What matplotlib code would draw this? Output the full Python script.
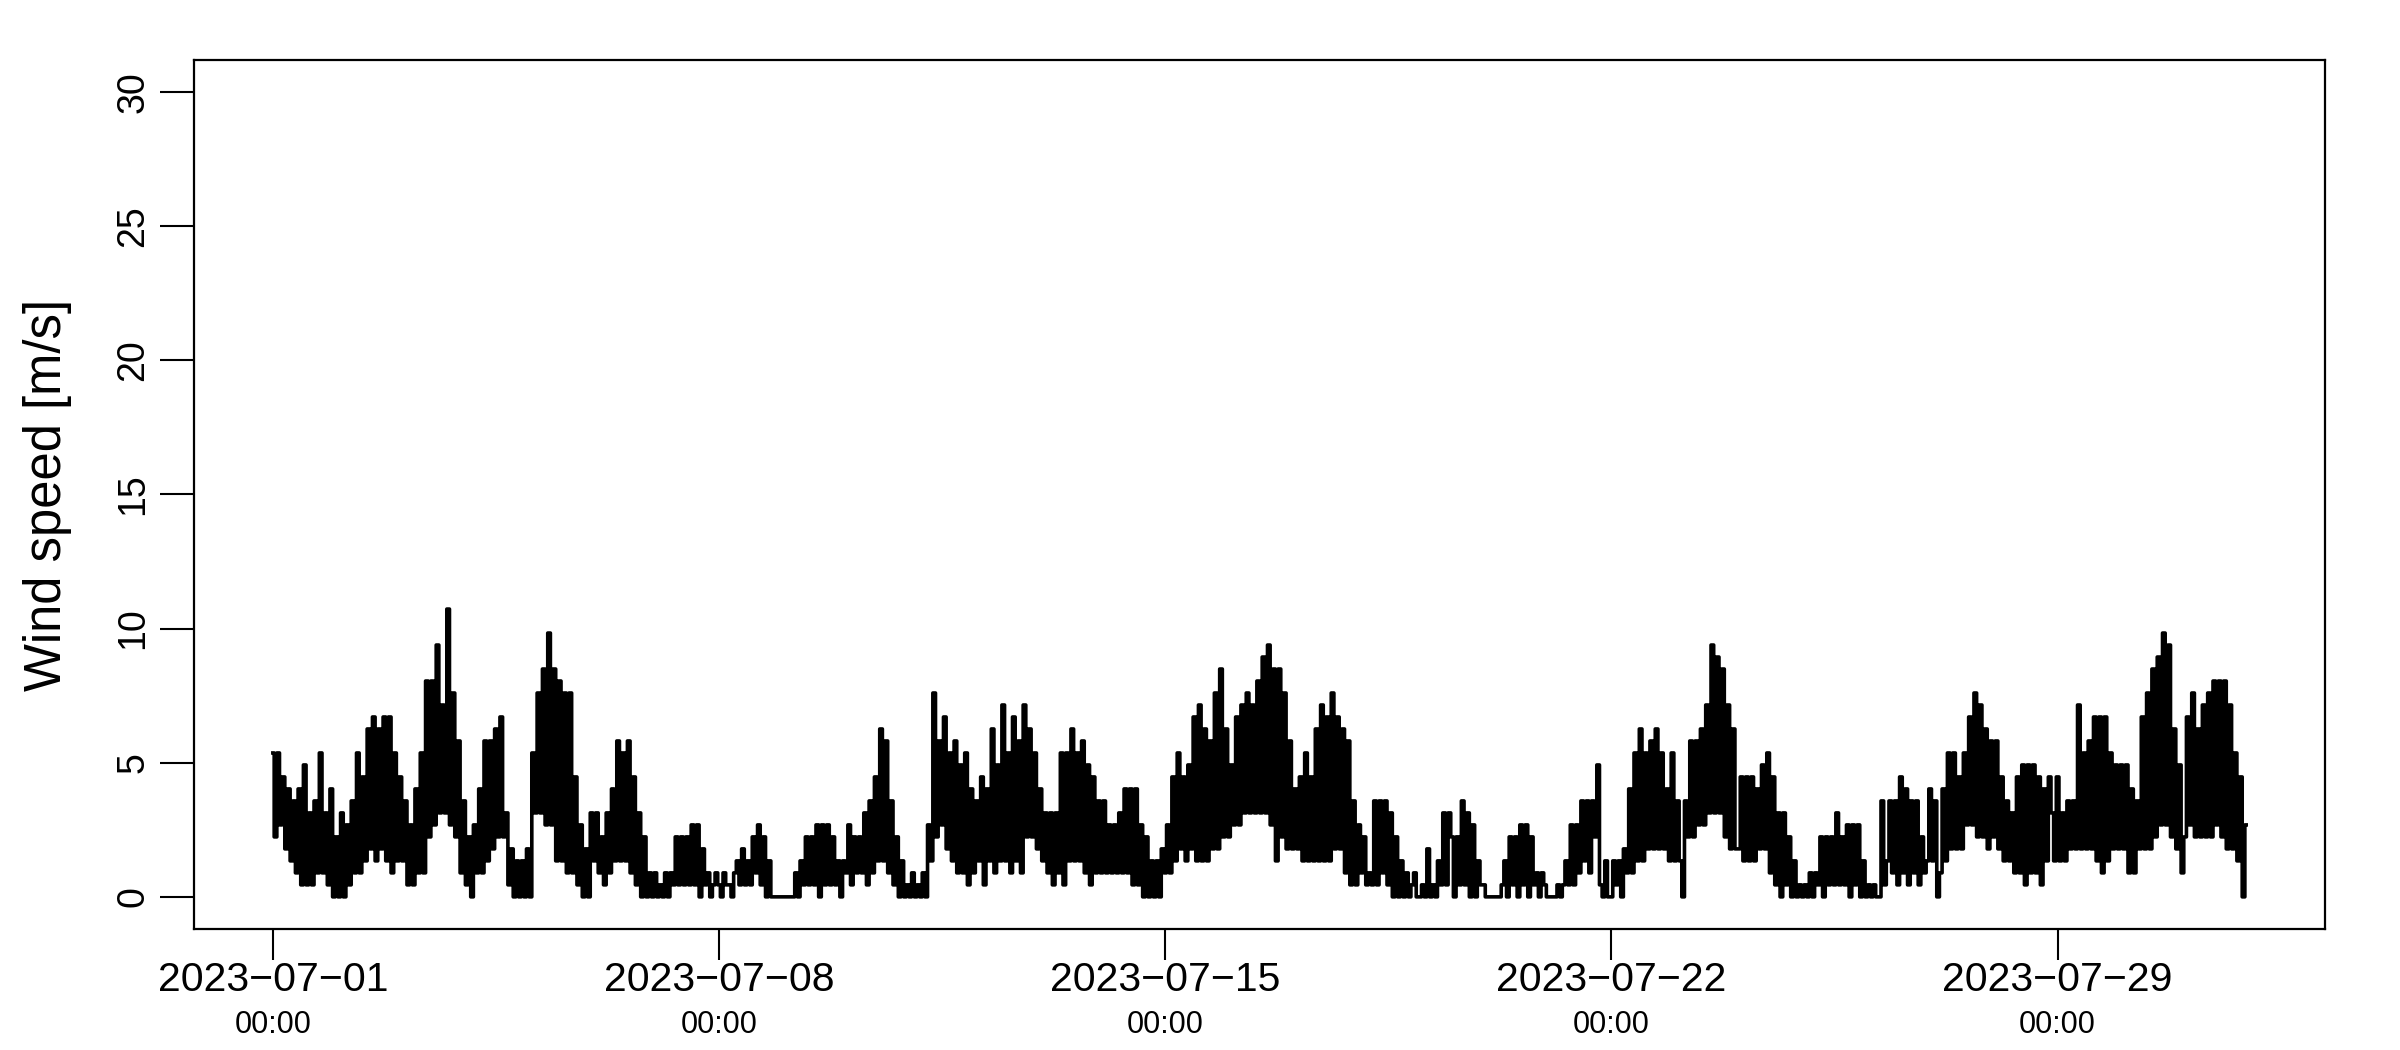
from datetime import datetime, timedelta
import numpy as np
import matplotlib
matplotlib.use("Agg")
import matplotlib.pyplot as plt
import matplotlib.dates as mdates
import matplotlib.transforms as mtransforms

plt.rcParams["font.family"] = ["Liberation Sans", "DejaVu Sans"]

MPH_TO_MS = 0.44704  # the sensor reports whole mph

# hourly wind speed in mph, one row per day (Jul 1 .. Jul 31)
week1 = [
    12, 5, 12, 6, 10, 4, 9, 3, 8, 2, 9, 1, 11, 1, 7, 1, 8, 2, 12, 2, 7, 1, 9, 0,
    5, 0, 7, 0, 6, 1, 8, 2, 12, 2, 10, 3, 14, 4, 15, 3, 14, 4, 15, 3, 15, 2, 12, 3,
    10, 3, 8, 1, 6, 1, 9, 2, 12, 2, 18, 5, 18, 6, 21, 7, 16, 7, 24, 6, 17, 5, 13, 2,
    8, 1, 5, 0, 6, 2, 9, 2, 13, 3, 13, 4, 14, 5, 15, 5, 7, 1, 4, 0, 3, 0, 3, 0,
    4, 0, 12, 7, 17, 7, 19, 6, 22, 6, 19, 3, 18, 3, 17, 2, 17, 2, 10, 1, 6, 0, 4, 0,
    7, 3, 7, 2, 5, 1, 7, 2, 9, 3, 13, 3, 12, 3, 13, 2, 10, 1, 7, 0, 5, 0, 2, 0,
    2, 0, 1, 0, 2, 0, 2, 1, 5, 1, 5, 1, 5, 1, 6, 1, 6, 0, 4, 1, 2, 0, 1, 2,
]
week2 = [
    1, 0, 2, 1, 1, 0, 2, 3, 1, 4, 1, 3, 1, 5, 2, 6, 1, 5, 0, 3, 0, 0, 0, 0,
    0, 0, 0, 0, 0, 2, 0, 3, 1, 5, 1, 5, 1, 6, 0, 6, 1, 6, 1, 5, 1, 3, 0, 3,
    2, 6, 1, 5, 2, 5, 2, 7, 1, 8, 2, 10, 3, 14, 3, 13, 2, 8, 1, 5, 0, 3, 0, 1,
    0, 2, 0, 1, 0, 2, 0, 6, 3, 17, 5, 13, 6, 15, 4, 12, 3, 13, 2, 11, 2, 12, 1, 9,
    2, 8, 3, 10, 1, 9, 3, 14, 2, 11, 3, 16, 3, 12, 2, 15, 3, 13, 2, 16, 5, 14, 5, 12,
    4, 9, 3, 7, 2, 7, 1, 7, 2, 12, 1, 12, 3, 14, 3, 12, 3, 13, 2, 11, 1, 10, 2, 8,
    2, 8, 2, 6, 2, 6, 2, 7, 2, 9, 2, 9, 1, 9, 1, 6, 0, 5, 0, 3, 0, 3, 0, 4,
]
week3 = [
    2, 6, 2, 10, 3, 12, 4, 10, 3, 11, 4, 15, 3, 16, 3, 14, 3, 13, 4, 17, 4, 19, 5, 14,
    5, 11, 6, 15, 6, 16, 7, 17, 7, 16, 7, 18, 7, 20, 7, 21, 6, 19, 3, 19, 5, 17, 4, 13,
    4, 9, 4, 10, 3, 12, 3, 10, 3, 14, 3, 16, 3, 15, 3, 17, 4, 15, 4, 14, 2, 13, 1, 8,
    1, 6, 2, 5, 1, 2, 1, 8, 1, 8, 2, 8, 1, 7, 0, 5, 0, 3, 0, 2, 0, 1, 2, 0,
    0, 1, 0, 4, 0, 1, 0, 3, 1, 7, 1, 7, 5, 0, 5, 1, 8, 1, 7, 0, 6, 0, 3, 1,
    1, 0, 0, 0, 0, 0, 0, 1, 3, 0, 5, 1, 5, 0, 6, 1, 6, 0, 5, 1, 2, 0, 2, 1,
    0, 0, 0, 0, 1, 0, 1, 3, 1, 6, 1, 6, 2, 8, 3, 8, 2, 8, 5, 11, 1, 0, 3, 0,
]
week4 = [
    0, 3, 1, 3, 0, 4, 2, 9, 2, 12, 3, 14, 3, 12, 4, 13, 4, 14, 4, 12, 4, 9, 3, 12,
    3, 8, 3, 0, 8, 5, 13, 5, 13, 6, 14, 6, 16, 7, 21, 7, 20, 7, 19, 5, 16, 4, 14, 4,
    4, 10, 3, 10, 3, 10, 3, 9, 4, 11, 4, 12, 2, 10, 1, 7, 0, 7, 1, 5, 0, 3, 0, 1,
    0, 1, 0, 2, 0, 2, 1, 5, 0, 5, 1, 5, 1, 7, 1, 5, 1, 6, 0, 6, 1, 6, 0, 3,
    0, 1, 0, 1, 0, 0, 8, 1, 3, 8, 2, 8, 1, 10, 2, 9, 1, 8, 2, 8, 1, 5, 2, 3,
    9, 3, 8, 0, 2, 9, 3, 12, 4, 12, 4, 10, 4, 12, 6, 15, 6, 17, 5, 16, 5, 14, 4, 13,
    5, 13, 4, 10, 3, 8, 3, 7, 2, 10, 2, 11, 1, 11, 2, 11, 2, 10, 1, 9, 3, 10, 7, 3,
]
week5 = [
    10, 3, 7, 3, 8, 4, 8, 4, 16, 4, 12, 4, 13, 4, 15, 3, 15, 2, 15, 3, 12, 4, 11, 4,
    11, 4, 11, 2, 9, 2, 8, 4, 15, 4, 17, 4, 19, 5, 20, 6, 22, 6, 21, 5, 14, 4, 11, 2,
    5, 15, 6, 17, 5, 14, 5, 16, 5, 17, 5, 18, 6, 18, 5, 18, 4, 16, 4, 12, 3, 10, 0, 6,
]

tick_dates = ["2023-07-01", "2023-07-08", "2023-07-15", "2023-07-22", "2023-07-29"]
tick_times = ["00:00", "00:00", "00:00", "00:00", "00:00"]
y_ticks = [0, 5, 10, 15, 20, 25, 30]

speed = np.array(week1 + week2 + week3 + week4 + week5) * MPH_TO_MS
start = datetime(2023, 7, 1)
times = [start + timedelta(hours=i) for i in range(len(speed))]

fig = plt.figure(figsize=(24, 10.5), dpi=100)
ax = fig.add_axes([0.0808, 0.1152, 0.888, 0.8277])

# near-vertical strokes between quantised levels, like the dense raw record
ax.plot(times, speed, color="black", lw=2.6, drawstyle="steps-mid")

# R-style 4% padding on both axes
span = times[-1] - times[0]
ax.set_xlim(times[0] - span * 0.04, times[-1] + span * 0.04)
ax.set_ylim(-1.2, 31.2)

ax.set_yticks(y_ticks)
ax.set_yticklabels([str(v) for v in y_ticks], rotation=90, va="center")
ticks = [datetime.strptime(d, "%Y-%m-%d") for d in tick_dates]
ax.set_xticks(ticks)
ax.set_xticklabels([d.replace("-", "\u2212") for d in tick_dates])

ax.tick_params(axis="y", length=24.5, width=1.5, labelsize=27, pad=6)
ax.tick_params(axis="x", length=22.3, width=1.5, labelsize=29.5, pad=1)
for s in ax.spines.values():
    s.set_linewidth(1.6)

trans = mtransforms.blended_transform_factory(ax.transData, fig.transFigure)
for t, lab in zip(ticks, tick_times):
    ax.text(mdates.date2num(t), 0.024, lab, transform=trans, ha="center",
            va="center", fontsize=22)

fig.text(0.0200, 0.529, "Wind speed [m/s]", rotation=90, ha="center",
         va="center", fontsize=36.5)

fig.savefig("out.png", dpi=100)
